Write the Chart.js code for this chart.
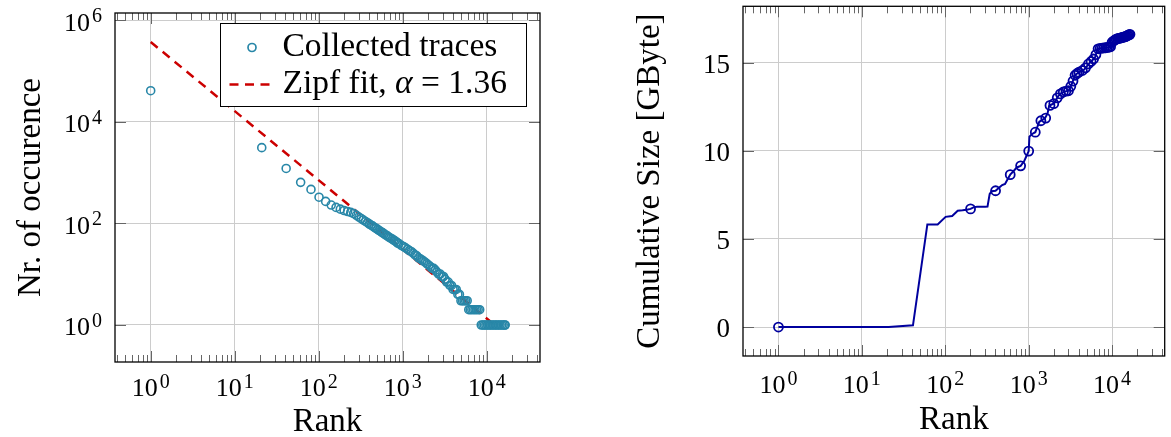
<!DOCTYPE html>
<html>
<head>
<meta charset="utf-8">
<script src="https://cdn.jsdelivr.net/npm/chart.js@4"></script>
<style>
  body { margin: 0; background: #fff; }
  #wrap { position: relative; width: 1171px; height: 437px; overflow: hidden; }
  canvas { position: absolute; top: 0; }
</style>
</head>
<body>
<div id="wrap">
  <canvas id="rankChart" width="580" height="437" style="left:0"></canvas>
  <canvas id="sizeChart" width="571" height="437" style="left:600px"></canvas>
</div>
<script>
const SERIF = '"Liberation Serif", "Times New Roman", serif';

// left panel: occurrences per rank (every 20th rank is plotted, so the tail gets dense)
const traceRanks = [1, 21, 41, 61, 81, 101, 121, 141, 161, 181, 201, 221, 241, 261, 281, 301, 321, 341, 361, 381,
  401, 421, 441, 461, 481, 501, 521, 541, 561, 581, 601, 631, 661, 691, 721, 751, 781, 811, 841, 871, 901,
  961, 1021, 1081, 1141, 1201, 1261, 1331, 1401, 1471, 1541, 1621, 1701, 1781, 1861, 1951, 2041, 2141, 2241, 2341,
  2451, 2561, 2681, 2801, 2931, 3061, 3201, 3341, 3491, 3651, 3811, 3981, 4161, 4341, 4541, 4741, 4941, 5161, 5381,
  5621, 5861, 6121, 6381, 6661, 6961, 7261, 7581, 7921, 8261, 8621, 9001, 9401, 9801, 10241, 10681, 11161, 11641,
  12161, 12681, 13241, 13821, 14421, 15061, 15721, 16401, 16601];
const traceCounts = [40700, 3080, 1200, 640, 465, 327, 270, 229, 206, 190, 179, 171, 164, 156, 144, 133, 124, 116, 109, 103,
  97, 92, 88, 83, 80, 76, 73, 70, 67, 65, 62, 59, 56, 53, 51, 49, 47, 45, 43, 41, 40,
  37, 35, 33, 31, 29, 28, 26, 24, 23, 21, 20, 19, 18, 17, 16, 15, 14, 13, 13,
  12, 11, 10, 10, 9, 9, 8, 7, 7, 6, 6, 5, 5, 5, 4, 4, 3, 3, 3,
  3, 3, 2, 2, 2, 2, 2, 2, 2, 2, 1, 1, 1, 1, 1, 1, 1, 1,
  1, 1, 1, 1, 1, 1, 1, 1, 1];

// Zipf fit, alpha = 1.36 (straight line in log-log, end points)
const fitRanks = [1, 12000];
const fitCounts = [370000, 1.05];

// right panel: cumulative size in GByte
const cumRanks = [1, 21, 41, 61, 81, 101, 121, 141, 161, 181, 201, 221, 241, 261, 281, 301, 321, 341, 361, 401,
  441, 481, 521, 561, 601, 661, 721, 801, 881, 941, 1001, 1021, 1101, 1201, 1281, 1341, 1461, 1561, 1681, 1761,
  1881, 2021, 2141, 2261, 2441, 2621, 2821, 3041, 3241, 3361, 3621, 4001, 4621, 5001, 5521, 6021, 6301, 6641,
  7001, 8001, 9501, 10001, 11001, 12501, 14001, 15001, 16581];
const cumSizes = [0, 0, 0.1, 5.82, 5.82, 6.25, 6.3, 6.6, 6.62, 6.65, 6.7, 6.8, 6.82, 6.82, 6.82, 6.82, 6.83, 7.55, 7.7, 7.73,
  7.9, 8.05, 8.12, 8.4, 8.64, 8.85, 9.05, 9.14, 9.4, 9.7, 9.98, 10.8, 10.95, 11.05, 11.4, 11.64, 11.75, 11.83, 12.1, 12.55,
  12.62, 12.68, 12.9, 13.1, 13.25, 13.34, 13.38, 13.42, 13.7, 13.9, 14.3, 14.45, 14.6, 14.8, 15.04, 15.2, 15.32, 15.75,
  15.8, 15.83, 15.88, 16.15, 16.3, 16.38, 16.45, 16.5, 16.62];

// marks (every 200th rank)
const markRanks = [1, 201, 401, 601, 801, 1001, 1201, 1401, 1601, 1801, 2001, 2201, 2401, 2601, 2801, 3001, 3201, 3401,
  3601, 3801, 4001, 4401, 4801, 5201, 5601, 6001, 6401, 6801, 7201, 7601, 8001, 8401, 8801, 9201, 9601, 10001,
  10401, 10801, 11201, 11601, 12001, 12401, 12801, 13201, 13601, 14001, 14401, 14801, 15201, 15601, 16001, 16401];
const markSizes = [0, 6.7, 7.73, 8.64, 9.14, 9.98, 11.05, 11.7, 11.85, 12.57, 12.67, 13.0, 13.22, 13.33, 13.38, 13.4, 13.65, 13.95,
  14.28, 14.38, 14.45, 14.55, 14.7, 14.92, 15.06, 15.2, 15.45, 15.78, 15.8, 15.82, 15.83, 15.84, 15.86, 15.87, 15.9, 16.15,
  16.22, 16.28, 16.32, 16.35, 16.37, 16.38, 16.4, 16.42, 16.44, 16.45, 16.47, 16.49, 16.52, 16.55, 16.58, 16.6];

// tick labels
const xTickExps = [0, 1, 2, 3, 4];
const leftYTickExps = [0, 2, 4, 6];
const rightYTicks = [0, 5, 10, 15];

const TEAL = '#2887a8';
const RED = '#cc0000';
const NAVY = '#00009e';

function pts(xs, ys) {
  return xs.map((x, i) => ({ x: x, y: ys[i] }));
}

function powLabel(ctx, exp, x, y, align) {
  ctx.font = '26px ' + SERIF;
  const wb = ctx.measureText('10').width;
  ctx.font = '20px ' + SERIF;
  const we = ctx.measureText(String(exp)).width;
  const w = wb + 2 + we;
  const x0 = align === 'center' ? x - w / 2 : x - w;
  ctx.textAlign = 'left';
  ctx.font = '26px ' + SERIF;
  ctx.fillText('10', x0, y);
  ctx.font = '20px ' + SERIF;
  ctx.fillText(String(exp), x0 + wb + 2, y - 8.5);
}

// pgfplots-like frame: box, inward ticks, labels, titles, legend
const frame = {
  id: 'frame',
  afterDraw(chart, args, o) {
    const ctx = chart.ctx;
    const a = chart.chartArea;
    const xs = chart.scales.x, ys = chart.scales.y;
    ctx.save();

    ctx.strokeStyle = '#666';
    ctx.lineWidth = 1;
    ctx.beginPath();
    const lo = Math.floor(Math.log10(xs.min)), hi = Math.ceil(Math.log10(xs.max));
    for (let e = lo; e <= hi; e++) {
      for (let m = 1; m <= 9; m++) {
        const v = m * Math.pow(10, e);
        if (v < xs.min || v > xs.max) continue;
        const px = Math.round(xs.getPixelForValue(v)) + 0.5;
        const len = m === 1 ? 11 : 7;
        ctx.moveTo(px, a.bottom); ctx.lineTo(px, a.bottom - len);
        ctx.moveTo(px, a.top); ctx.lineTo(px, a.top + len);
      }
    }
    ys.ticks.forEach(t => {
      const py = Math.round(ys.getPixelForValue(t.value)) + 0.5;
      ctx.moveTo(a.left, py); ctx.lineTo(a.left + 11, py);
      ctx.moveTo(a.right, py); ctx.lineTo(a.right - 11, py);
    });
    ctx.stroke();

    ctx.strokeStyle = '#000';
    ctx.lineWidth = 1.3;
    ctx.strokeRect(a.left, a.top, a.right - a.left, a.bottom - a.top);

    ctx.fillStyle = '#000';
    ctx.textBaseline = 'alphabetic';
    xs.ticks.forEach(t => {
      powLabel(ctx, Math.round(Math.log10(t.value)), xs.getPixelForValue(t.value), a.bottom + o.xLabelOffset, 'center');
    });
    ys.ticks.forEach(t => {
      const py = ys.getPixelForValue(t.value);
      if (o.yLog) {
        powLabel(ctx, Math.round(Math.log10(t.value)), a.left - 13, py + 10.5, 'right');
      } else {
        ctx.font = '27px ' + SERIF;
        ctx.textAlign = 'right';
        ctx.fillText(String(t.value), a.left - 13, py + 10);
      }
    });

    ctx.font = '33px ' + SERIF;
    ctx.textAlign = 'center';
    ctx.fillText(o.xTitle, (a.left + a.right) / 2, o.xTitleY);
    ctx.save();
    ctx.translate(o.yTitleX, (a.top + a.bottom) / 2);
    ctx.rotate(-Math.PI / 2);
    ctx.fillText(o.yTitle, 0, 0);
    ctx.restore();

    if (o.legend) {
      const bx = a.right - 13.5, by = a.top + 10.5;
      const L = bx - 306, T = by, W = 306, H = 83;
      ctx.fillStyle = '#fff';
      ctx.fillRect(L, T, W, H);
      ctx.strokeStyle = '#000';
      ctx.lineWidth = 1;
      ctx.strokeRect(L, T, W, H);

      ctx.strokeStyle = TEAL;
      ctx.lineWidth = 1.7;
      ctx.beginPath();
      ctx.arc(L + 31.5, T + 24, 4, 0, Math.PI * 2);
      ctx.stroke();

      ctx.strokeStyle = RED;
      ctx.lineWidth = 2.5;
      ctx.setLineDash([9, 6.5]);
      ctx.beginPath();
      ctx.moveTo(L + 9, T + 61);
      ctx.lineTo(L + 49, T + 61);
      ctx.stroke();
      ctx.setLineDash([]);

      ctx.fillStyle = '#000';
      ctx.textAlign = 'left';
      ctx.font = '33.5px ' + SERIF;
      ctx.fillText('Collected traces', L + 62, T + 32.5);
      let tx = L + 62;
      const part1 = 'Zipf fit, ';
      ctx.fillText(part1, tx, T + 69);
      tx += ctx.measureText(part1).width;
      ctx.font = 'italic 33.5px ' + SERIF;
      ctx.fillText('\u03b1', tx, T + 69);
      tx += ctx.measureText('\u03b1').width;
      ctx.font = '33.5px ' + SERIF;
      ctx.fillText(' = 1.36', tx, T + 69);
    }
    ctx.restore();
  }
};

function decadeTicks(exps) {
  return function (scale) { scale.ticks = exps.map(e => ({ value: Math.pow(10, e) })); };
}

const gridOpts = { color: '#cccccc', lineWidth: 1, drawTicks: false };

new Chart(document.getElementById('rankChart'), {
  type: 'scatter',
  data: {
    datasets: [{
      label: 'Collected traces',
      data: pts(traceRanks, traceCounts),
      pointStyle: 'circle',
      pointRadius: 4,
      pointBorderWidth: 1.6,
      borderColor: TEAL,
      pointBackgroundColor: 'rgba(0,0,0,0)',
      order: 1
    }, {
      label: 'Zipf fit',
      data: pts(fitRanks, fitCounts),
      showLine: true,
      borderColor: RED,
      borderWidth: 2.5,
      borderDash: [9, 6.5],
      pointRadius: 0,
      order: 2
    }]
  },
  options: {
    responsive: false,
    devicePixelRatio: 1,
    animation: false,
    layout: { padding: { top: 13, right: 40, bottom: 0, left: 0 } },
    plugins: {
      legend: { display: false },
      tooltip: { enabled: false },
      frame: { xTitle: 'Rank', yTitle: 'Nr. of occurence', xLabelOffset: 34, xTitleY: 431, yTitleX: 40, yLog: true, legend: true }
    },
    scales: {
      x: {
        type: 'logarithmic',
        bounds: 'data',
        min: Math.pow(10, -0.425),
        max: Math.pow(10, 4.635),
        afterBuildTicks: decadeTicks(xTickExps),
        afterFit: s => { s.height = 75; },
        ticks: { display: false },
        grid: gridOpts,
        border: { display: false }
      },
      y: {
        type: 'logarithmic',
        bounds: 'data',
        min: Math.pow(10, -0.728),
        max: Math.pow(10, 6.138),
        afterBuildTicks: decadeTicks(leftYTickExps),
        afterFit: s => { s.width = 115; },
        ticks: { display: false },
        grid: gridOpts,
        border: { display: false }
      }
    }
  },
  plugins: [frame]
});

new Chart(document.getElementById('sizeChart'), {
  type: 'scatter',
  data: {
    datasets: [{
      label: 'marks',
      data: pts(markRanks, markSizes),
      pointStyle: 'circle',
      pointRadius: 4.5,
      pointBorderWidth: 1.8,
      borderColor: NAVY,
      pointBackgroundColor: 'rgba(0,0,0,0)',
      order: 1
    }, {
      label: 'Cumulative size',
      data: pts(cumRanks, cumSizes),
      showLine: true,
      borderColor: NAVY,
      borderWidth: 2,
      pointRadius: 0,
      order: 2
    }]
  },
  options: {
    responsive: false,
    devicePixelRatio: 1,
    animation: false,
    layout: { padding: { top: 6, right: 3, bottom: 0, left: 0 } },
    plugins: {
      legend: { display: false },
      tooltip: { enabled: false },
      frame: { xTitle: 'Rank', yTitle: 'Cumulative Size [GByte]', xLabelOffset: 37, xTitleY: 429, yTitleX: 59, yLog: false, legend: false }
    },
    scales: {
      x: {
        type: 'logarithmic',
        bounds: 'data',
        min: Math.pow(10, -0.425),
        max: Math.pow(10, 4.631),
        afterBuildTicks: decadeTicks(xTickExps),
        afterFit: s => { s.height = 81; },
        ticks: { display: false },
        grid: gridOpts,
        border: { display: false }
      },
      y: {
        type: 'linear',
        bounds: 'data',
        min: -1.643,
        max: 18.19,
        afterBuildTicks: s => { s.ticks = rightYTicks.map(v => ({ value: v })); },
        afterFit: s => { s.width = 143; },
        ticks: { display: false },
        grid: gridOpts,
        border: { display: false }
      }
    }
  },
  plugins: [frame]
});
</script>
</body>
</html>
